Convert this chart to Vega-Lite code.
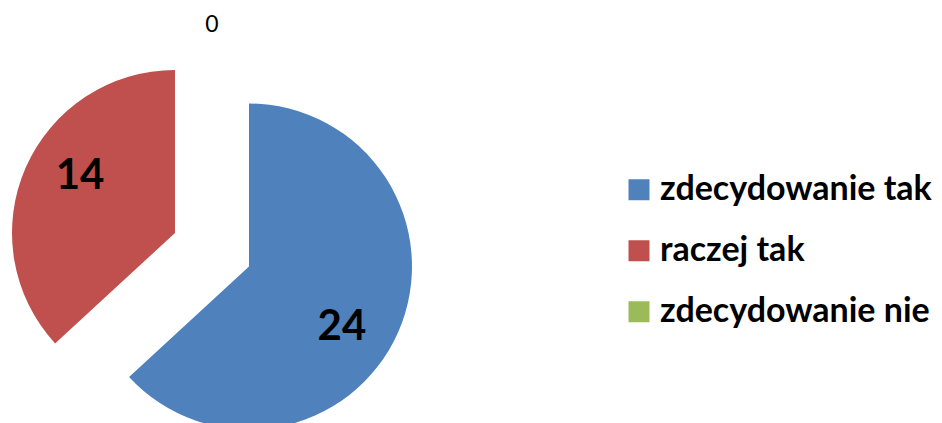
{
  "$schema": "https://vega.github.io/schema/vega-lite/v6.json",
  "width": 424,
  "height": 346,
  "autosize": {"type": "none"},
  "padding": {"left": 0, "top": 76.75, "right": 518, "bottom": 0.25},
  "background": "white",
  "config": {"view": {"stroke": null}, "font": "Lato"},
  "data": {
    "values": [
      {"answer": "zdecydowanie tak", "count": 24, "order": 1},
      {"answer": "raczej tak", "count": 14, "order": 2},
      {"answer": "zdecydowanie nie", "count": 0, "order": 3}
    ]
  },
  "encoding": {
    "theta": {"field": "count", "type": "quantitative", "stack": true},
    "order": {"field": "order", "type": "quantitative"}
  },
  "layer": [
    {
      "mark": {"type": "arc", "outerRadius": 163, "xOffset": 37, "yOffset": 16.75},
      "encoding": {
        "color": {
          "field": "answer",
          "type": "nominal",
          "scale": {
            "domain": ["zdecydowanie tak", "raczej tak", "zdecydowanie nie"],
            "range": ["#4F81BD", "#C0504D", "#9BBB59"]
          },
          "legend": {
            "title": null,
            "orient": "none",
            "legendX": 622,
            "legendY": 96,
            "padding": 0,
            "symbolType": "square",
            "symbolSize": 441,
            "symbolStrokeWidth": 0,
            "symbolOpacity": 1,
            "labelFont": "Lato",
            "labelFontSize": 34,
            "labelFontWeight": "bold",
            "labelColor": "black",
            "labelOffset": 4,
            "rowPadding": 27,
            "labelLimit": 400
          }
        },
        "opacity": {"condition": {"test": "datum.answer === 'zdecydowanie tak'", "value": 1}, "value": 0}
      }
    },
    {
      "mark": {"type": "arc", "outerRadius": 163, "xOffset": -37, "yOffset": -16.75},
      "encoding": {
        "color": {"field": "answer", "type": "nominal"},
        "opacity": {"condition": {"test": "datum.answer === 'raczej tak'", "value": 1}, "value": 0}
      }
    },
    {
      "mark": {"type": "text", "radius": 111, "thetaOffset": 0.165, "xOffset": 37, "yOffset": 16.75, "fontSize": 42, "fontWeight": "bold", "font": "Lato", "color": "black", "baseline": "middle", "align": "center"},
      "encoding": {
        "text": {"field": "count", "type": "quantitative"},
        "opacity": {"condition": {"test": "datum.answer === 'zdecydowanie tak'", "value": 1}, "value": 0}
      }
    },
    {
      "mark": {"type": "text", "radius": 111, "thetaOffset": 0.13, "xOffset": -37, "yOffset": -16.75, "fontSize": 42, "fontWeight": "bold", "font": "Lato", "color": "black", "baseline": "middle", "align": "center"},
      "encoding": {
        "text": {"field": "count", "type": "quantitative"},
        "opacity": {"condition": {"test": "datum.answer === 'raczej tak'", "value": 1}, "value": 0}
      }
    },
    {
      "mark": {"type": "text", "radius": 225, "fontSize": 23, "font": "Lato", "color": "black", "baseline": "middle", "align": "center"},
      "encoding": {
        "text": {"field": "count", "type": "quantitative"},
        "opacity": {"condition": {"test": "datum.answer === 'zdecydowanie nie'", "value": 1}, "value": 0}
      }
    }
  ]
}
